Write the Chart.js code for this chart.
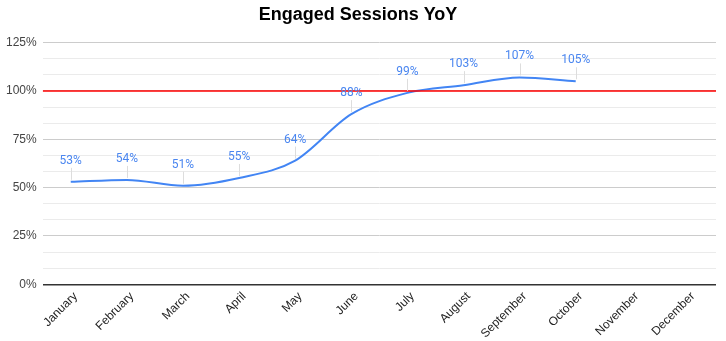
<!DOCTYPE html>
<html>
<head>
<meta charset="utf-8">
<script src="https://cdn.jsdelivr.net/npm/chart.js@4"></script>
<style>
  html, body { margin: 0; padding: 0; background: #fff; }
  #wrap { width: 726px; height: 341px; }
</style>
</head>
<body>
<div id="wrap"><canvas id="yoyChart"></canvas></div>
<script>
const months = ['January', 'February', 'March', 'April', 'May', 'June',
  'July', 'August', 'September', 'October', 'November', 'December'];
const engagedYoY = [53, 54, 51, 55, 64, 88, 99, 103, 107, 105, null, null];
const target = 100;
const majorTicks = [0, 25, 50, 75, 100, 125];

// minor gridlines sit at thirds between the labelled ticks
const gridValues = [];
majorTicks.forEach((v, i) => {
  gridValues.push(v);
  if (i < majorTicks.length - 1) {
    gridValues.push(v + 25 / 3, v + 50 / 3);
  }
});
const isMajor = v => majorTicks.some(m => Math.abs(m - v) < 0.01);

// value labels above points, with a thin leader line
const pointLabels = {
  id: 'pointLabels',
  afterDatasetsDraw(chart) {
    const meta = chart.getDatasetMeta(1);
    const ctx = chart.ctx;
    ctx.save();
    ctx.font = '12px Roboto, "Liberation Sans", Arial, sans-serif';
    ctx.textAlign = 'center';
    ctx.textBaseline = 'middle';
    meta.data.forEach((pt, i) => {
      const v = engagedYoY[i];
      if (v == null) return;
      ctx.strokeStyle = '#dddddd';
      ctx.lineWidth = 1;
      ctx.beginPath();
      ctx.moveTo(Math.round(pt.x) + 0.5, pt.y - 14);
      ctx.lineTo(Math.round(pt.x) + 0.5, pt.y - 2);
      ctx.stroke();
      ctx.fillStyle = '#4a86f0';
      ctx.fillText(v + '%', pt.x, pt.y - 21);
    });
    ctx.restore();
  }
};

new Chart(document.getElementById('yoyChart'), {
  type: 'line',
  data: {
    labels: months,
    datasets: [{
      label: 'Target',
      data: [{ x: 0, y: target }, { x: 1, y: target }],
      xAxisID: 'xFull',
      borderColor: '#ff0000',
      borderWidth: 1.5,
      pointRadius: 0,
      tension: 0
    }, {
      label: 'Engaged Sessions YoY',
      data: engagedYoY,
      borderColor: '#4285f4',
      borderWidth: 2,
      pointRadius: 0,
      cubicInterpolationMode: 'monotone'
    }]
  },
  options: {
    responsive: true,
    maintainAspectRatio: false,
    animation: false,
    layout: { padding: { left: 0, right: 10, top: 0, bottom: -5 } },
    plugins: {
      legend: { display: false },
      tooltip: { enabled: false },
      title: {
        display: true,
        text: 'Engaged Sessions YoY',
        color: '#000',
        font: { family: '"Liberation Sans", Arial, sans-serif', size: 18, weight: 'bold' },
        padding: { top: 4, bottom: 17 }
      }
    },
    scales: {
      x: {
        offset: true,
        grid: { display: false, drawTicks: false },
        border: { display: false },
        ticks: {
          color: '#222',
          font: { family: '"Liberation Sans", Arial, sans-serif', size: 12 },
          maxRotation: 45,
          minRotation: 45,
          autoSkip: false,
          labelOffset: 5,
          padding: 5
        }
      },
      xFull: {
        type: 'linear',
        display: false,
        min: 0,
        max: 1
      },
      y: {
        min: 0,
        max: 125,
        afterBuildTicks(scale) {
          scale.ticks = gridValues.map(v => ({ value: v }));
        },
        border: { display: false },
        grid: {
          drawTicks: false,
          color: ctx => {
            const v = ctx.tick.value;
            if (v === 0) return '#333333';
            return isMajor(v) ? '#cccccc' : '#ebebeb';
          },
          lineWidth: ctx => ctx.tick.value === 0 ? 1.5 : 1
        },
        ticks: {
          color: '#444',
          font: { family: '"Liberation Sans", Arial, sans-serif', size: 12 },
          padding: 6,
          autoSkip: false,
          callback: v => isMajor(v) ? Math.round(v) + '%' : ''
        }
      }
    }
  },
  plugins: [pointLabels]
});
</script>
</body>
</html>
